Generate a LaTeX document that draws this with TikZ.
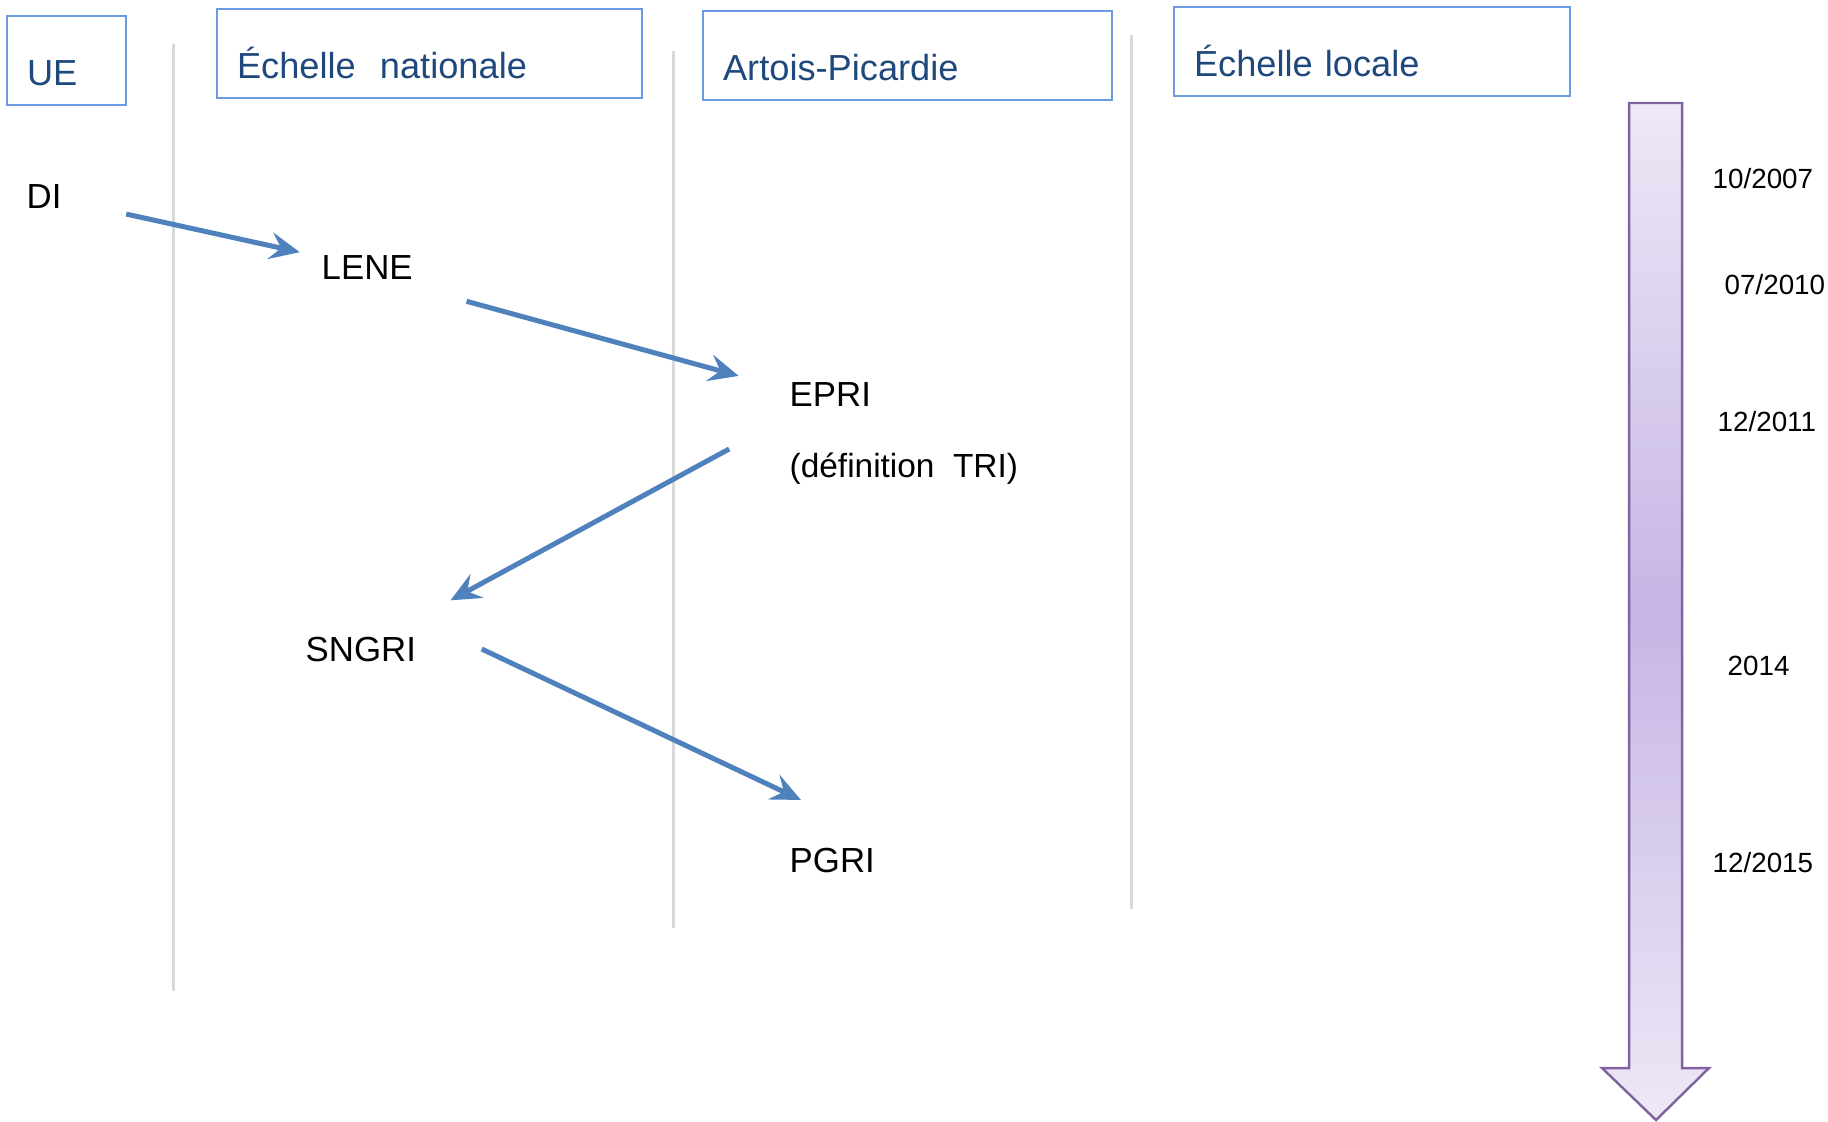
\documentclass[tikz,border=0pt]{standalone}
\usepackage{fontspec}
\setmainfont{Liberation Sans}
\usetikzlibrary{positioning}
\usetikzlibrary{arrows.meta}
\definecolor{boxblue}{HTML}{6A9BE0}
\definecolor{headblue}{HTML}{1F497D}
\definecolor{flowblue}{HTML}{4F81BD}
\definecolor{sepgray}{HTML}{D9D9D9}
\definecolor{timeedge}{HTML}{8064A2}
\definecolor{timelight}{HTML}{EEE8F6}
\definecolor{timedark}{HTML}{C6B5E5}
\tikzstyle{headbox} = [rectangle, 
    draw=boxblue, 
    line width=0.6pt, 
    text=headblue, 
    anchor=north west, 
    inner xsep=0.2cm, 
    inner ysep=0pt, 
    text height=0.69cm, 
    text depth=0.2cm, 
    align=left, 
    font=\fontsize{10.3}{12}\selectfont]
\tikzstyle{txt} = [inner sep=0pt, anchor=base west, font=\fontsize{9.9}{12}\selectfont]
\tikzstyle{datetxt} = [inner sep=0pt, anchor=base west, font=\fontsize{7.9}{10}\selectfont]
\tikzstyle{sepline} = [draw=sepgray, line width=0.03cm]
\tikzstyle{timeline} = [draw=timeedge, line width=0.7pt, 
    top color=timelight, 
    bottom color=timelight, 
    middle color=timedark]
\tikzstyle{arrow} = [draw=flowblue, line width=0.05cm, -{Stealth[length=0.3cm, width=0.27cm, inset=0.11cm]}]

\begin{document}
\begin{tikzpicture}[x=0.01cm, y=-0.01cm]
\useasboundingbox (0,0) rectangle (1828,1121);

% column headers
\node (ue) [headbox, text width=0.79cm] at (6,15) {UE};
\node (nat) [headbox, text width=3.85cm] at (216,8) {Échelle~ nationale};
\node (ap) [headbox, text width=3.69cm] at (702,10) {Artois-Picardie};
\node (loc) [headbox, text width=3.56cm] at (1173,6) {Échelle locale};

\draw [sepline] (173,44) -- (173,991);
\draw [sepline] (673,51) -- (673,928);
\draw [sepline] (1131,35) -- (1131,909);

% steps
\node (di) [txt] at (26,208) {DI};
\node (lene) [txt] at (321,279) {LENE};
\node (epri) [txt] at (789,406) {EPRI};
\node (deftri) [txt, font=\fontsize{9.5}{12}\selectfont] at ([yshift=-0.71cm]epri.base west) {(définition~ TRI)};
\node (sngri) [txt] at (305,661) {SNGRI};
\node (pgri) [txt] at (789,872) {PGRI};

% time axis
\draw [timeline] (1629,103) -- (1682,103) -- (1682,1068) -- (1709,1068) -- (1656,1120) -- (1602,1068) -- (1629,1068) -- cycle;

\node (d2007) [datetxt] at (1712,188) {10/2007};
\node (d2010) [datetxt] at (1724,294) {07/2010};
\node (d2011) [datetxt] at (1717,431) {12/2011};
\node (d2014) [datetxt] at (1727,675) {2014};
\node (d2015) [datetxt] at (1712,872) {12/2015};

\draw [arrow, shorten <=0.84cm, shorten >=0.69cm] (di.center) -- (lene.center);
\draw [arrow, shorten <=1.03cm, shorten >=0.95cm] ([yshift=-0.07cm]lene.center) -- ([yshift=-0.07cm]epri.center);
\draw [arrow, shorten <=1.15cm, shorten >=1.02cm] (epri.center) -- (sngri.center);
\draw [arrow] ([xshift=0.65cm]sngri.east) -- ([xshift=0.12cm,yshift=0.47cm]pgri.north west);

\end{tikzpicture}
\end{document}
